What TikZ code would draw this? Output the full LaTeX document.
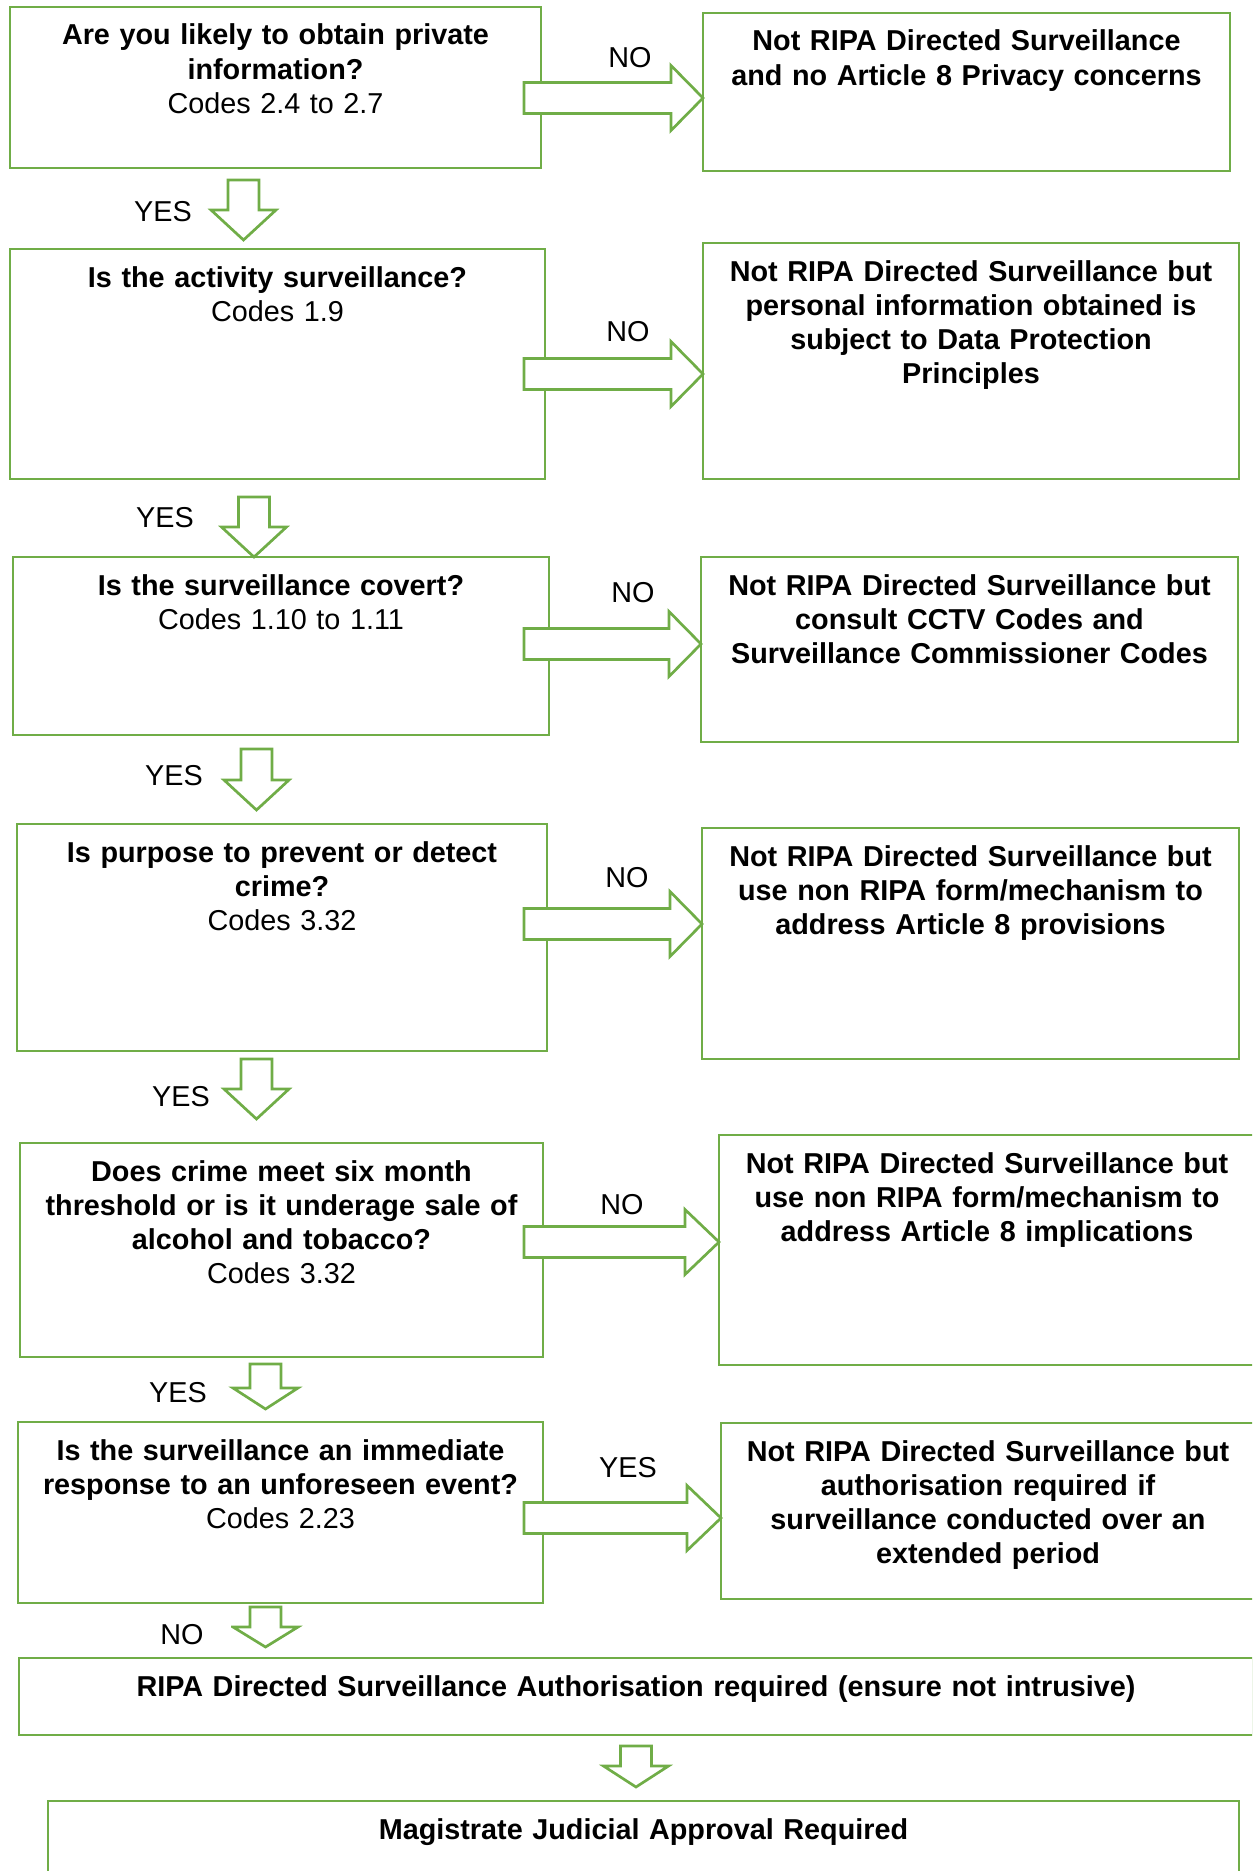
\documentclass[tikz,border=0pt]{standalone}
\usepackage{fontspec}
\setmainfont{Liberation Sans}
\usetikzlibrary{calc}

\definecolor{gruen}{RGB}{112,173,71}
\newcommand{\pix}{0.41pt}

\tikzset{
  kasten/.style 2 args={draw=gruen, line width=1.1pt, inner sep=0pt, outer sep=0pt,
    anchor=north west, align=center, text width=#1*\pix,
    text height=38*\pix, text depth=(#2-38)*\pix,
    font=\fontsize{11.8}{14.02}\selectfont\bfseries},
  marke/.style={inner sep=0pt, font=\fontsize{11.8}{14.02}\selectfont},
  pfeilr/.style={draw=gruen, line width=1.1pt, fill=white, to path={
      ($(\tikztostart)+(0,-15.5)$) -- ($(\tikztotarget)+(-#1,-15.5)$)
      -- ($(\tikztotarget)+(-#1,-32.5)$) -- (\tikztotarget)
      -- ($(\tikztotarget)+(-#1,32.5)$) -- ($(\tikztotarget)+(-#1,15.5)$)
      -- ($(\tikztostart)+(0,15.5)$) -- cycle}},
  pfeilr/.default=32,
  pfeilu/.style={draw=gruen, line width=1.1pt, fill=white, to path={
      ($(\tikztostart)+(-15.5,0)$) -- ($(\tikztotarget)+(-15.5,-#1)$)
      -- ($(\tikztotarget)+(-32.5,-#1)$) -- (\tikztotarget)
      -- ($(\tikztotarget)+(32.5,-#1)$) -- ($(\tikztotarget)+(15.5,-#1)$)
      -- ($(\tikztostart)+(15.5,0)$) -- cycle}},
  pfeilu/.default=30,
}

\begin{document}
\begin{tikzpicture}[x=\pix, y=-\pix]
  \useasboundingbox (0,0) rectangle (1252,1871);
  \clip (0,0) rectangle (1252,1871);

  % Fragen
  \node[kasten={531}{161}] (q1) at (10,7) {Are you likely to obtain private\\information?\\\mdseries Codes 2.4 to 2.7};
  \node[kasten={535}{230}] (q2) at (10,249) {Is the activity surveillance?\\\mdseries Codes 1.9};
  \node[kasten={536}{178}] (q3) at (13,557) {Is the surveillance covert?\\\mdseries Codes 1.10 to 1.11};
  \node[kasten={530}{227}] (q4) at (17,824) {Is purpose to prevent or detect\\crime?\\\mdseries Codes 3.32};
  \node[kasten={523}{214}] (q5) at (20,1143) {Does crime meet six month\\threshold or is it underage sale of\\alcohol and tobacco?\\\mdseries Codes 3.32};
  \node[kasten={525}{181}] (q6) at (18,1422) {Is the surveillance an immediate\\response to an unforeseen event?\\\mdseries Codes 2.23};

  % Ergebnisse
  \node[kasten={527}{158}] (n1) at (703,13) {Not RIPA Directed Surveillance\\and no Article 8 Privacy concerns};
  \node[kasten={536}{236}] (n2) at (703,243) {Not RIPA Directed Surveillance but\\personal information obtained is\\subject to Data Protection\\Principles};
  \node[kasten={537}{185}] (n3) at (701,557) {Not RIPA Directed Surveillance but\\consult CCTV Codes and\\Surveillance Commissioner Codes};
  \node[kasten={537}{231}] (n4) at (702,828) {Not RIPA Directed Surveillance but\\use non RIPA form/mechanism to\\address Article 8 provisions};
  \node[kasten={536}{230}] (n5) at (719,1135) {Not RIPA Directed Surveillance but\\use non RIPA form/mechanism to\\address Article 8 implications};
  \node[kasten={534}{176}] (n6) at (721,1423) {Not RIPA Directed Surveillance but\\authorisation required if\\surveillance conducted over an\\extended period};

  \node[kasten={1234}{77}] (ripa) at (19,1658) {RIPA Directed Surveillance Authorisation required (ensure not intrusive)};
  \node[kasten={1191}{100}] (magi) at (48,1801) {Magistrate Judicial Approval Required};

  % Pfeile nach rechts
  \coordinate (s1) at ($(q1.east)+(-17,10.5)$);
  \coordinate (z1) at (s1 -| n1.west);
  \draw[pfeilr] (s1) to (z1);
  \coordinate (s2) at ($(q2.east)+(-21,10)$);
  \coordinate (z2) at (s2 -| n2.west);
  \draw[pfeilr] (s2) to (z2);
  \coordinate (s3) at ($(q3.east)+(-25,-2)$);
  \coordinate (z3) at (s3 -| n3.west);
  \draw[pfeilr] (s3) to (z3);
  \coordinate (s4) at ($(q4.east)+(-23,-13.5)$);
  \coordinate (z4) at (s4 -| n4.west);
  \draw[pfeilr] (s4) to (z4);
  \coordinate (s5) at ($(q5.east)+(-19,-8)$);
  \coordinate (z5) at (s5 -| n5.west);
  \draw[pfeilr=34] (s5) to (z5);
  \coordinate (s6) at ($(q6.east)+(-19,5.5)$);
  \coordinate (z6) at (s6 -| n6.west);
  \draw[pfeilr=34] (s6) to (z6);

  % Pfeile nach unten
  \coordinate (o1) at ($(q1.south)+(-32,12)$);
  \coordinate (u1) at ($(o1 |- q2.north)+(0,-9)$);
  \draw[pfeilu] (o1) to (u1);
  \coordinate (o2) at ($(q2.south)+(-23.5,18)$);
  \coordinate (u2) at (o2 |- q3.north);
  \draw[pfeilu] (o2) to (u2);
  \coordinate (o3) at ($(q3.south)+(-24.5,14)$);
  \coordinate (u3) at ($(o3 |- q4.north)+(0,-14)$);
  \draw[pfeilu] (o3) to (u3);
  \coordinate (o4) at ($(q4.south)+(-25.5,8)$);
  \coordinate (u4) at ($(o4 |- q5.north)+(0,-24)$);
  \draw[pfeilu] (o4) to (u4);
  \coordinate (o5) at ($(q5.south)+(-16,7)$);
  \coordinate (u5) at ($(o5 |- q6.north)+(0,-13)$);
  \draw[pfeilu=21] (o5) to (u5);
  \coordinate (o6) at ($(q6.south)+(-15,4)$);
  \coordinate (u6) at ($(o6 |- ripa.north)+(0,-11)$);
  \draw[pfeilu=20] (o6) to (u6);
  \coordinate (o7) at ($(ripa.south)+(0,11)$);
  \coordinate (u7) at ($(o7 |- magi.north)+(0,-14)$);
  \draw[pfeilu=21] (o7) to (u7);

  % Beschriftungen
  \node[marke] (nein1) at (630,58) {NO};
  \node[marke] (nein2) at (628,332) {NO};
  \node[marke] (nein3) at (633,593) {NO};
  \node[marke] (nein4) at (627,878) {NO};
  \node[marke] (nein5) at (622,1205) {NO};
  \node[marke] (ja6) at (628,1468) {YES};

  \node[marke] (ja1) at (163,212) {YES};
  \node[marke] (ja2) at (165,518) {YES};
  \node[marke] (ja3) at (174,776) {YES};
  \node[marke] (ja4) at (181,1097) {YES};
  \node[marke] (ja5) at (178,1393) {YES};
  \node[marke, fill=white, inner xsep=11.3pt, inner ysep=4.7pt] (nein6) at (182,1635) {NO};
\end{tikzpicture}
\end{document}
